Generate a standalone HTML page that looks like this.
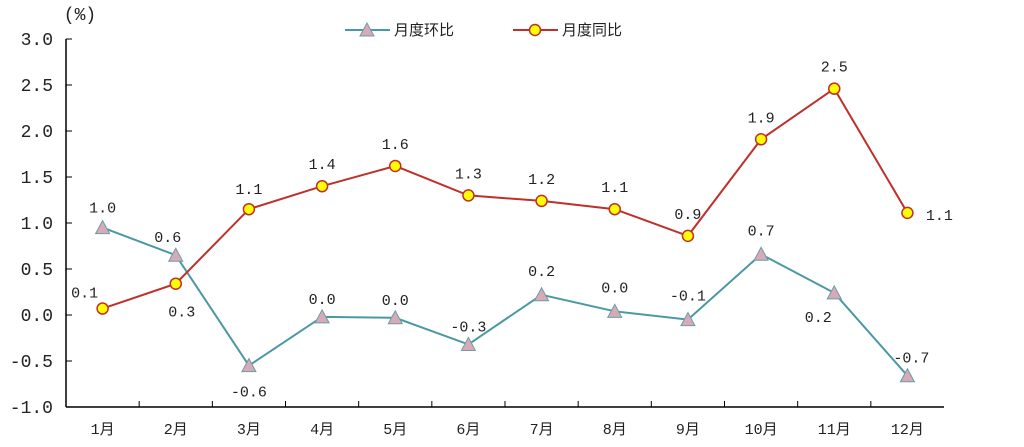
<!DOCTYPE html>
<html><head><meta charset="utf-8"><style>
body{margin:0;background:#fff;}
svg text{font-family:"Liberation Mono","Noto Sans CJK SC",monospace;font-size:15px;fill:#222;}
svg text.yl{font-size:18px;}
</style></head><body>
<svg id="c" width="1024" height="442"></svg>
<script>
const categories=["1月","2月","3月","4月","5月","6月","7月","8月","9月","10月","11月","12月"];
const momValues=[0.95,0.65,-0.55,-0.02,-0.03,-0.32,0.22,0.04,-0.05,0.66,0.24,-0.66];
const momLabels=["1.0","0.6","-0.6","0.0","0.0","-0.3","0.2","0.0","-0.1","0.7","0.2","-0.7"];
const yoyValues=[0.07,0.34,1.15,1.40,1.62,1.30,1.24,1.15,0.86,1.91,2.46,1.11];
const yoyLabels=["0.1","0.3","1.1","1.4","1.6","1.3","1.2","1.1","0.9","1.9","2.5","1.1"];
const yTicks=[3.0,2.5,2.0,1.5,1.0,0.5,0.0,-0.5,-1.0];
const momOff=[[0,-20],[-8,-18],[0,26],[0,-18],[0,-18],[0,-18],[0,-24],[0,-24],[0,-24],[0,-24],[-16,24],[4,-18]];
const yoyOff=[[-18,-16],[6,28],[0,-20],[0,-22],[0,-22],[0,-22],[0,-22],[0,-22],[0,-22],[0,-22],[0,-22],[32,2]];
const NS="http://www.w3.org/2000/svg",svg=document.getElementById('c');
const L=66,R=944,T=39,B=407,yMin=-1,yMax=3,bw=(R-L)/12;
const x=i=>L+(i+0.5)*bw, y=v=>B-(v-yMin)/(yMax-yMin)*(B-T);
function mk(t,a,p){const e=document.createElementNS(NS,t);for(const k in a)e.setAttribute(k,a[k]);(p||svg).appendChild(e);return e;}
let e;
e=mk('line',{x1:L,y1:T,x2:L,y2:B,stroke:'#000','stroke-width':1.5});


e=mk('line',{x1:L,y1:B,x2:R,y2:B,stroke:'#000','stroke-width':1.5});


yTicks.forEach(v=>{
 mk('line',{x1:L,y1:y(v),x2:L+6,y2:y(v),stroke:'#000'});
 e=mk('text',{x:53,y:y(v)+6,'text-anchor':'end','class':'yl'});e.textContent=v.toFixed(1);
 
 
});
e=mk('text',{x:80,y:20,'text-anchor':'middle','class':'yl'});e.textContent="(%)";


categories.forEach((c,i)=>{
 if(i>0)mk('line',{x1:L+i*bw,y1:B,x2:L+i*bw,y2:B-6,stroke:'#000'});
 e=mk('text',{x:x(i),y:434,'text-anchor':'middle'});e.textContent=c;
 
 
});
const tc='#4a98a4',rc='#c0302a';
function tri(cx,cy,n){const g=mk('polygon',{points:`${cx},${cy-7} ${cx-7},${cy+6} ${cx+7},${cy+6}`,fill:'#d8a9b6',stroke:'#6a9ea8','stroke-width':1});
 
 }
function circ(cx,cy,n){const g=mk('circle',{cx:cx,cy:cy,r:5.5,fill:'#ffff00',stroke:rc,'stroke-width':1.5});
 
 }
e=mk('polyline',{points:momValues.map((v,i)=>x(i)+','+y(v)).join(' '),fill:'none',stroke:tc,'stroke-width':2});


e=mk('polyline',{points:yoyValues.map((v,i)=>x(i)+','+y(v)).join(' '),fill:'none',stroke:rc,'stroke-width':2});


momValues.forEach((v,i)=>{tri(x(i),y(v),'mom-point');
 e=mk('text',{x:x(i)+momOff[i][0],y:y(v)+momOff[i][1]+5,'text-anchor':'middle'});e.textContent=momLabels[i];
 
 });
yoyValues.forEach((v,i)=>{circ(x(i),y(v),'yoy-point');
 e=mk('text',{x:x(i)+yoyOff[i][0],y:y(v)+yoyOff[i][1]+5,'text-anchor':'middle'});e.textContent=yoyLabels[i];
 
 });
mk('line',{x1:345,y1:30,x2:390,y2:30,stroke:tc,'stroke-width':2});tri(367,30,'legend-mom-marker');
e=mk('text',{x:394,y:35});e.textContent="月度环比";


mk('line',{x1:513,y1:30,x2:558,y2:30,stroke:rc,'stroke-width':2});circ(535,30,'legend-yoy-marker');
e=mk('text',{x:562,y:35});e.textContent="月度同比";


</script>
</body></html>
